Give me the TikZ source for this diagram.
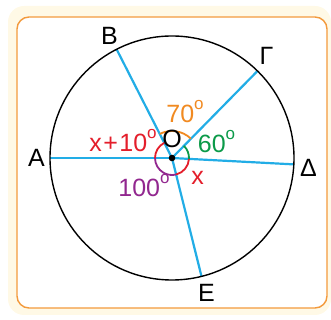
\documentclass[tikz,border=0pt]{standalone}
\usepackage{fontspec}
\setmainfont{Liberation Sans}
\usepackage{xcolor}
\usepackage{tikz}

\definecolor{cream}{HTML}{FFF9E6}
\definecolor{framecol}{HTML}{F39A3D}
\definecolor{raycol}{HTML}{22ADE6}
\definecolor{angred}{HTML}{E41E2B}
\definecolor{angorange}{HTML}{F18A21}
\definecolor{anggreen}{HTML}{0B9A49}
\definecolor{angpurple}{HTML}{92278F}

% simbolo di grado
\newcommand{\dgr}{\raisebox{1.05ex}{\fontsize{17}{17}\selectfont o}}

\begin{document}
\begin{tikzpicture}[
    x=1pt, y=1pt,
    ray/.style={draw=raycol, line width=2.2pt},
    angarc/.style={line width=1.8pt},
    ptlabel/.style={
        font=\fontsize{25}{25}\selectfont,
        inner sep=0pt, anchor=base
    },
    anglabel/.style={
        font=\fontsize{25}{25}\selectfont,
        inner sep=0pt, anchor=base
    },
]
\useasboundingbox (0,0) rectangle (331,320);

% Cornice
\fill[cream, rounded corners=16pt] (8,5) rectangle (331,314);
\draw[framecol, line width=1.4pt, fill=white, rounded corners=12pt]
    (17,12) rectangle (327,303);

% Centro e punti sul cerchio
\coordinate (O) at (172,162);
\begin{scope}[shift={(O)}]
    \coordinate (A) at (180:122pt);
    \coordinate (B) at (117:122pt);
    \coordinate (G) at (45.5:122pt);
    \coordinate (D) at (-3:122pt);
    \coordinate (E) at (-76:122pt);
\end{scope}

% Raggi
\draw[ray] (O) -- (A);
\draw[ray] (O) -- (B);
\draw[ray] (O) -- (G);
\draw[ray] (O) -- (D);
\draw[ray] (O) -- (E);

% Cerchio
\draw[line width=1.4pt] (O) circle (122pt);

% Archi degli angoli
\draw[angarc, angorange] ([shift={(45.5:27pt)}]O)
    arc[start angle=45.5, end angle=117, radius=27pt];
\draw[angarc, angred] ([shift={(117:17pt)}]O)
    arc[start angle=117, end angle=180, radius=17pt];
\draw[angarc, angpurple] ([shift={(180:17pt)}]O)
    arc[start angle=180, end angle=284, radius=17pt];
\draw[angarc, angred] ([shift={(-76:17pt)}]O)
    arc[start angle=-76, end angle=-3, radius=17pt];
\draw[angarc, anggreen] ([shift={(-3:17pt)}]O)
    arc[start angle=-3, end angle=45.5, radius=17pt];

\fill (O) circle (3.3pt);

% Etichette punti
\node[ptlabel] (lA) at (36.5,153.3) {A};
\node[ptlabel] (lB) at (109.5,275) {B};
\node[ptlabel] (lG) at (266.5,255) {Γ};
\node[ptlabel] (lD) at (308.5,143.3) {Δ};
\node[ptlabel] (lE) at (206.5,18.3) {E};
\node[ptlabel] (lO) at (172,172) {O};

% Etichette angoli
\node[anglabel, angorange] (a70) at (185,197) {70\dgr};
\node[anglabel, anggreen] (a60) at (216.5,167) {60\dgr};
\node[anglabel, angred] (ax10) at (123,168) {x\kern1.5pt+\kern1.5pt10\dgr};
\node[anglabel, angred] (ax) at (197.5,135) {x};
\node[anglabel, angpurple] (a100) at (144,123) {100\dgr};

\end{tikzpicture}
\end{document}
